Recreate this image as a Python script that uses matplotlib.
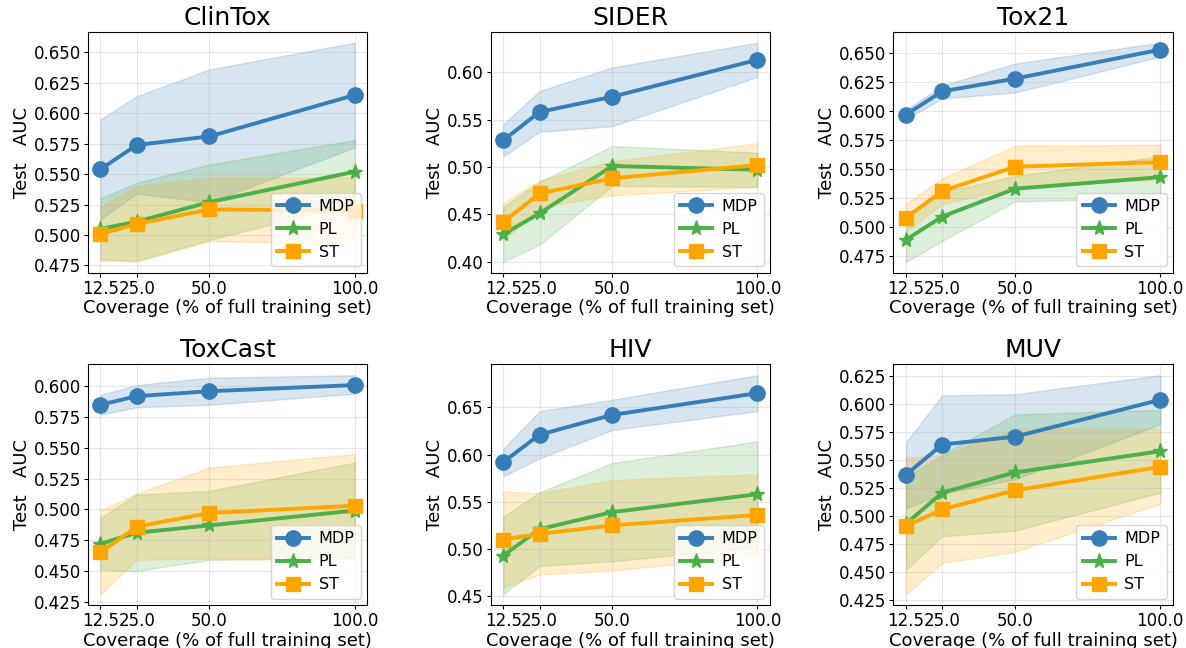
import numpy as np
import matplotlib
matplotlib.use("Agg")
import matplotlib.pyplot as plt
from matplotlib.ticker import MultipleLocator, FormatStrFormatter

coverage = [12.5, 25.0, 50.0, 100.0]
datasets = ["ClinTox", "SIDER", "Tox21", "ToxCast", "HIV", "MUV"]
methods = ["MDP", "PL", "ST"]

# mean, lower, upper per dataset / method
clintox_mdp = [0.554, 0.574, 0.581, 0.615]
clintox_mdp_lo = [0.513, 0.534, 0.527, 0.572]
clintox_mdp_hi = [0.595, 0.614, 0.636, 0.658]
clintox_pl = [0.505, 0.511, 0.527, 0.552]
clintox_pl_lo = [0.480, 0.479, 0.496, 0.526]
clintox_pl_hi = [0.530, 0.543, 0.558, 0.578]
clintox_st = [0.501, 0.509, 0.521, 0.520]
clintox_st_lo = [0.479, 0.478, 0.495, 0.493]
clintox_st_hi = [0.523, 0.540, 0.547, 0.547]

sider_mdp = [0.528, 0.558, 0.574, 0.613]
sider_mdp_lo = [0.511, 0.537, 0.543, 0.595]
sider_mdp_hi = [0.545, 0.580, 0.605, 0.631]
sider_pl = [0.429, 0.451, 0.501, 0.497]
sider_pl_lo = [0.400, 0.418, 0.480, 0.479]
sider_pl_hi = [0.458, 0.484, 0.522, 0.515]
sider_st = [0.442, 0.472, 0.488, 0.502]
sider_st_lo = [0.422, 0.458, 0.470, 0.479]
sider_st_hi = [0.462, 0.486, 0.506, 0.525]

tox21_mdp = [0.597, 0.617, 0.628, 0.653]
tox21_mdp_lo = [0.593, 0.611, 0.616, 0.647]
tox21_mdp_hi = [0.601, 0.622, 0.641, 0.659]
tox21_pl = [0.489, 0.509, 0.533, 0.543]
tox21_pl_lo = [0.470, 0.488, 0.522, 0.525]
tox21_pl_hi = [0.508, 0.530, 0.544, 0.561]
tox21_st = [0.508, 0.531, 0.552, 0.556]
tox21_st_lo = [0.496, 0.520, 0.534, 0.541]
tox21_st_hi = [0.520, 0.542, 0.570, 0.571]

toxcast_mdp = [0.585, 0.592, 0.596, 0.601]
toxcast_mdp_lo = [0.577, 0.583, 0.585, 0.594]
toxcast_mdp_hi = [0.593, 0.601, 0.607, 0.609]
toxcast_pl = [0.472, 0.481, 0.487, 0.499]
toxcast_pl_lo = [0.451, 0.450, 0.459, 0.460]
toxcast_pl_hi = [0.493, 0.512, 0.515, 0.538]
toxcast_st = [0.465, 0.486, 0.497, 0.503]
toxcast_st_lo = [0.431, 0.459, 0.460, 0.461]
toxcast_st_hi = [0.499, 0.513, 0.534, 0.545]

hiv_mdp = [0.592, 0.621, 0.642, 0.665]
hiv_mdp_lo = [0.577, 0.596, 0.626, 0.646]
hiv_mdp_hi = [0.606, 0.646, 0.658, 0.684]
hiv_pl = [0.493, 0.521, 0.539, 0.558]
hiv_pl_lo = [0.452, 0.482, 0.487, 0.502]
hiv_pl_hi = [0.534, 0.560, 0.591, 0.614]
hiv_st = [0.510, 0.516, 0.525, 0.536]
hiv_st_lo = [0.459, 0.473, 0.477, 0.493]
hiv_st_hi = [0.561, 0.559, 0.573, 0.579]

muv_mdp = [0.537, 0.564, 0.571, 0.604]
muv_mdp_lo = [0.507, 0.520, 0.533, 0.582]
muv_mdp_hi = [0.566, 0.608, 0.609, 0.626]
muv_pl = [0.493, 0.521, 0.539, 0.558]
muv_pl_lo = [0.452, 0.482, 0.487, 0.521]
muv_pl_hi = [0.534, 0.555, 0.591, 0.595]
muv_st = [0.491, 0.506, 0.523, 0.544]
muv_st_lo = [0.430, 0.458, 0.468, 0.511]
muv_st_hi = [0.552, 0.554, 0.578, 0.578]

results = {
    "ClinTox": [(clintox_mdp, clintox_mdp_lo, clintox_mdp_hi), (clintox_pl, clintox_pl_lo, clintox_pl_hi), (clintox_st, clintox_st_lo, clintox_st_hi)],
    "SIDER": [(sider_mdp, sider_mdp_lo, sider_mdp_hi), (sider_pl, sider_pl_lo, sider_pl_hi), (sider_st, sider_st_lo, sider_st_hi)],
    "Tox21": [(tox21_mdp, tox21_mdp_lo, tox21_mdp_hi), (tox21_pl, tox21_pl_lo, tox21_pl_hi), (tox21_st, tox21_st_lo, tox21_st_hi)],
    "ToxCast": [(toxcast_mdp, toxcast_mdp_lo, toxcast_mdp_hi), (toxcast_pl, toxcast_pl_lo, toxcast_pl_hi), (toxcast_st, toxcast_st_lo, toxcast_st_hi)],
    "HIV": [(hiv_mdp, hiv_mdp_lo, hiv_mdp_hi), (hiv_pl, hiv_pl_lo, hiv_pl_hi), (hiv_st, hiv_st_lo, hiv_st_hi)],
    "MUV": [(muv_mdp, muv_mdp_lo, muv_mdp_hi), (muv_pl, muv_pl_lo, muv_pl_hi), (muv_st, muv_st_lo, muv_st_hi)],
}
ystep = {"ClinTox": 0.025, "SIDER": 0.05, "Tox21": 0.025, "ToxCast": 0.025, "HIV": 0.05, "MUV": 0.025}

colors = ["#377eb8", "#4daf4a", "#ffa500"]
markers = ["o", "*", "s"]
msizes = [11, 11, 10]

fig, axes = plt.subplots(2, 3, figsize=(11.86, 6.48), dpi=100)
fig.subplots_adjust(left=0.074, right=0.989, top=0.951, bottom=0.066, wspace=0.44, hspace=0.38)

for ax, name in zip(axes.flat, datasets):
    for k, m in enumerate(methods):
        mean, lo, hi = results[name][k]
        ax.plot(coverage, mean, color=colors[k], marker=markers[k], markersize=msizes[k], linewidth=2.8, label=m)
        ax.fill_between(coverage, lo, hi, color=colors[k], alpha=0.2)
    ax.set_title(name, fontsize=18, pad=5)
    ax.set_xticks(coverage)
    ax.set_xticklabels([str(c) for c in coverage])
    ax.yaxis.set_major_locator(MultipleLocator(ystep[name]))
    if ystep[name] < 0.05:
        ax.yaxis.set_major_formatter(FormatStrFormatter("%.3f"))
    else:
        ax.yaxis.set_major_formatter(FormatStrFormatter("%.2f"))
    ax.set_xlabel("Coverage (% of full training set)", fontsize=13, labelpad=1)
    ax.set_ylabel("Test   AUC", fontsize=13, labelpad=2)
    ax.tick_params(labelsize=12, length=3, pad=2)
    ax.grid(True, alpha=0.3)
    ax.legend(loc="lower right", fontsize=11.5, handletextpad=0.6, borderaxespad=0.4)

plt.savefig("out.png", dpi=100)
